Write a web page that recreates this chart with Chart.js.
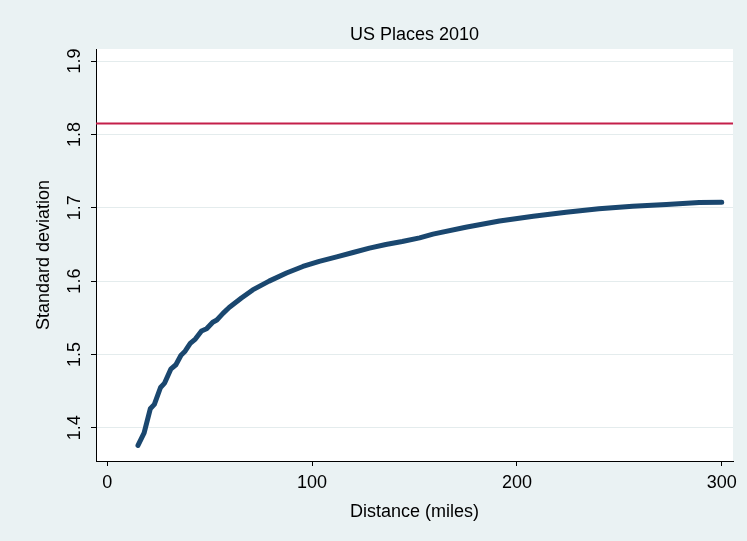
<!DOCTYPE html>
<html>
<head>
<meta charset="utf-8">
<script src="https://cdn.jsdelivr.net/npm/chart.js@4/dist/chart.umd.min.js"></script>
<style>
  body { margin: 0; background: #eaf2f3; }
  canvas { display: block; }
</style>
</head>
<body>
<canvas id="chart" width="747" height="541"></canvas>
<script>
// Data
const distance = [15, 18, 21, 23, 26, 28, 31, 33.5, 36, 38, 40.5, 43, 46, 48.5, 51.5, 53.5, 56.5, 59.5,
    65.5, 71, 79, 87.5, 95.5, 103.5, 112, 120, 128, 136, 144, 152.5, 159, 175, 191.5, 208, 224, 240,
    256.5, 273, 289, 300];
const stdDev = [1.376, 1.393, 1.426, 1.432, 1.455, 1.461, 1.480, 1.486, 1.499, 1.5045, 1.515, 1.521,
    1.532, 1.535, 1.544, 1.547, 1.556, 1.564, 1.577, 1.588, 1.600, 1.611, 1.620, 1.627, 1.633, 1.639,
    1.645, 1.650, 1.654, 1.659, 1.664, 1.6735, 1.682, 1.6885, 1.694, 1.6985, 1.702, 1.7045, 1.707, 1.7076];
const refLine = 1.815;
const xTicks = [0, 100, 200, 300];
const yTicks = [1.4, 1.5, 1.6, 1.7, 1.8, 1.9];
const xRange = [-5.5, 305.5];
const yRange = [1.3548, 1.9164];
const chartTitle = 'US Places 2010';

const FONT = "'Liberation Sans', Arial, Helvetica, sans-serif";

// background + white plot region
const bgPlugin = {
    id: 'bg',
    beforeDraw(chart) {
        const { ctx, chartArea: a } = chart;
        ctx.save();
        ctx.fillStyle = '#eaf2f3';
        ctx.fillRect(0, 0, chart.width, chart.height);
        ctx.fillStyle = '#ffffff';
        ctx.fillRect(a.left, a.top, a.right - a.left, a.bottom - a.top);
        ctx.restore();
    }
};

// title centred over the plot region, and Stata-style vertical y tick labels
const textPlugin = {
    id: 'texts',
    afterDraw(chart) {
        const { ctx, chartArea: a } = chart;
        const scale = chart.scales.y;
        ctx.save();
        ctx.fillStyle = '#000';
        ctx.font = '18px ' + FONT;
        ctx.textAlign = 'center';
        ctx.textBaseline = 'middle';
        ctx.fillText(chartTitle, (a.left + a.right) / 2, 35);
        yTicks.forEach(v => {
            const y = scale.getPixelForValue(v);
            ctx.save();
            ctx.translate(75, y);
            ctx.rotate(-Math.PI / 2);
            ctx.fillText(v.toFixed(1), 0, 0);
            ctx.restore();
        });
        ctx.restore();
    }
};

new Chart(document.getElementById('chart'), {
    type: 'line',
    data: {
        datasets: [{
            data: distance.map((d, i) => ({ x: d, y: stdDev[i] })),
            borderColor: '#1a476f',
            borderWidth: 5,
            borderCapStyle: 'round',
            borderJoinStyle: 'round',
            pointRadius: 0,
            tension: 0,
        }, {
            data: xRange.map(x => ({ x: x, y: refLine })),
            borderColor: '#c41f4a',
            borderWidth: 2,
            pointRadius: 0,
        }],
    },
    options: {
        responsive: false,
        animation: false,
        layout: { padding: { left: 0, right: 14, top: 49, bottom: 0 } },
        plugins: {
            legend: { display: false },
            tooltip: { enabled: false },
            title: { display: false },
        },
        scales: {
            x: {
                type: 'linear',
                min: xRange[0],
                max: xRange[1],
                afterBuildTicks: s => { s.ticks = xTicks.map(v => ({ value: v })); },
                afterFit: s => { s.height = 80; },
                grid: { drawOnChartArea: false, tickColor: '#000', tickLength: 5 },
                border: { color: '#000', width: 1 },
                ticks: { color: '#000', padding: 6, maxRotation: 0, font: { family: FONT, size: 18 } },
                title: {
                    display: true,
                    text: 'Distance (miles)',
                    color: '#000',
                    font: { family: FONT, size: 18, lineHeight: 1.2 },
                    padding: { top: 0, bottom: 18 },
                },
            },
            y: {
                min: yRange[0],
                max: yRange[1],
                afterBuildTicks: s => { s.ticks = yTicks.map(v => ({ value: v })); },
                afterFit: s => { s.width = 96; },
                grid: { color: '#e4eced', lineWidth: 1, tickColor: '#000', tickLength: 5 },
                border: { color: '#000', width: 1 },
                ticks: { display: false },
                title: {
                    display: true,
                    text: 'Standard deviation',
                    color: '#000',
                    font: { family: FONT, size: 18, lineHeight: 1.2 },
                    padding: { top: 33.7, bottom: 0 },
                },
            },
        },
    },
    plugins: [bgPlugin, textPlugin],
});
</script>
</body>
</html>
